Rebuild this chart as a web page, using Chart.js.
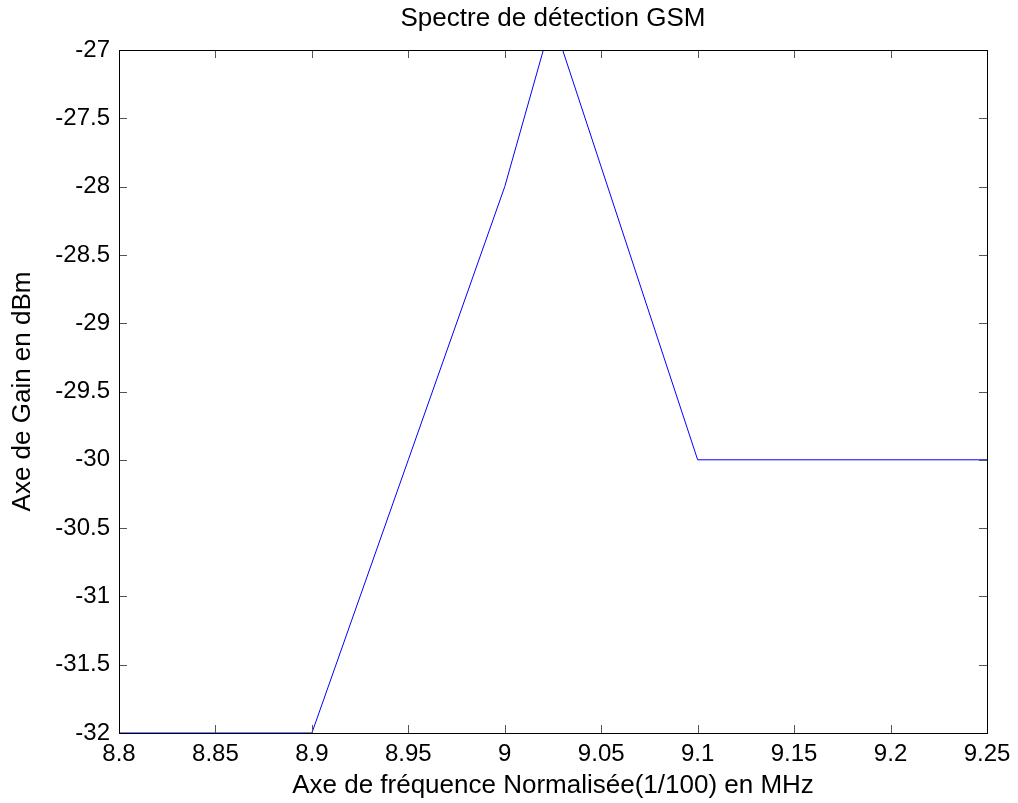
<!DOCTYPE html>
<html>
<head>
<meta charset="utf-8">
<script src="https://cdn.jsdelivr.net/npm/chart.js"></script>
<style>
  html, body { margin: 0; padding: 0; background: #fff; }
  #wrap { width: 1018px; height: 803px; }
</style>
</head>
<body>
<div id="wrap"><canvas id="chart"></canvas></div>
<script>
  // Data
  const freqs = [8.8, 8.9, 9.0, 9.02, 9.03, 9.1, 9.25];
  const gains = [-32, -32, -28, -27, -27, -30, -30];
  const xTicks = [8.8, 8.85, 8.9, 8.95, 9.0, 9.05, 9.1, 9.15, 9.2, 9.25];
  const yTicks = [-32, -31.5, -31, -30.5, -30, -29.5, -29, -28.5, -28, -27.5, -27];

  const font = 'Liberation Sans, Arial, sans-serif';
  const fmt = v => String(Number(v.toFixed(2)));

  // Inside tick marks and full box, MATLAB style
  const boxTicks = {
    id: 'boxTicks',
    afterDraw(chart) {
      const { ctx, chartArea: a, scales } = chart;
      const len = 8;
      ctx.save();
      ctx.strokeStyle = '#555';
      ctx.lineWidth = 1;
      ctx.beginPath();
      xTicks.forEach(v => {
        const x = Math.round(scales.x.getPixelForValue(v)) + 0.5;
        ctx.moveTo(x, a.bottom); ctx.lineTo(x, a.bottom - len);
        ctx.moveTo(x, a.top); ctx.lineTo(x, a.top + len);
      });
      yTicks.forEach(v => {
        const y = Math.round(scales.y.getPixelForValue(v)) + 0.5;
        ctx.moveTo(a.left, y); ctx.lineTo(a.left + len, y);
        ctx.moveTo(a.right, y); ctx.lineTo(a.right - len, y);
      });
      ctx.stroke();
      ctx.strokeStyle = '#000';
      ctx.strokeRect(Math.round(a.left) + 0.5, Math.round(a.top) + 0.5,
        Math.round(a.right - a.left), Math.round(a.bottom - a.top));
      ctx.restore();
    }
  };

  new Chart(document.getElementById('chart'), {
    type: 'scatter',
    data: {
      datasets: [{
        data: freqs.map((f, i) => ({ x: f, y: gains[i] })),
        showLine: true,
        borderColor: 'rgb(0,0,255)',
        borderWidth: 1,
        pointRadius: 0,
        tension: 0
      }]
    },
    options: {
      responsive: true,
      maintainAspectRatio: false,
      animation: false,
      layout: { padding: { left: 0, right: 31, top: 0, bottom: 0 } },
      plugins: {
        legend: { display: false },
        tooltip: { enabled: false },
        title: {
          display: true,
          fullSize: false,
          text: 'Spectre de détection GSM',
          color: '#000',
          font: { family: font, size: 26, weight: 'normal' },
          padding: { top: 3, bottom: 15.8 }
        }
      },
      scales: {
        x: {
          type: 'linear',
          min: 8.8,
          max: 9.25,
          afterBuildTicks: s => { s.ticks = xTicks.map(v => ({ value: v })); },
          afterFit: s => { s.height = 70; },
          grid: { display: false, drawTicks: false },
          border: { display: false },
          ticks: {
            color: '#000',
            padding: 7,
            maxRotation: 0,
            autoSkip: false,
            font: { family: font, size: 24 },
            callback: v => fmt(v)
          },
          title: {
            display: true,
            text: 'Axe de fréquence Normalisée(1/100) en MHz',
            color: '#000',
            font: { family: font, size: 26 },
            padding: { top: 0, bottom: 2 }
          }
        },
        y: {
          type: 'linear',
          min: -32,
          max: -27,
          afterBuildTicks: s => { s.ticks = yTicks.map(v => ({ value: v })); },
          afterFit: s => { s.width = 119; },
          grid: { display: false, drawTicks: false },
          border: { display: false },
          ticks: {
            color: '#000',
            padding: 9,
            autoSkip: false,
            font: { family: font, size: 24 },
            callback: v => fmt(v)
          },
          title: {
            display: true,
            text: 'Axe de Gain en dBm',
            color: '#000',
            font: { family: font, size: 26 },
            padding: { top: 7, bottom: 0 }
          }
        }
      }
    },
    plugins: [boxTicks]
  });
</script>
</body>
</html>
